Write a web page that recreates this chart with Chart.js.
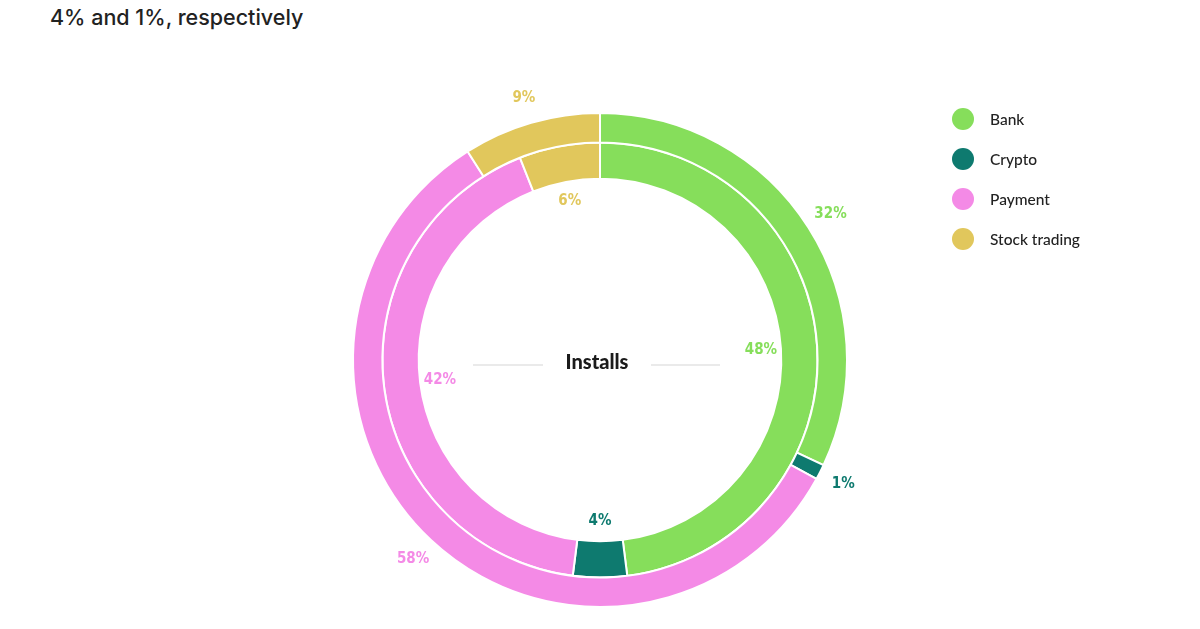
<!DOCTYPE html>
<html>
<head>
  <title>Installs</title>
  <script src="https://cdn.jsdelivr.net/npm/chart.js"></script>
  <style>
    body { margin: 0; background: #fff; font-family: Lato, "Open Sans", sans-serif; }
    #wrap { position: relative; width: 1200px; height: 629px; overflow: hidden; }
    #title {
      position: absolute; left: 50px; top: 4px; font-size: 21.5px; color: #222;
      font-family: Inter, Lato, sans-serif; font-weight: 500;
    }
    #legend { position: absolute; left: 952px; top: 99px; }
    .item { display: flex; align-items: center; height: 40px; font-size: 15.5px; color: #222; font-weight: 500; }
    .dot { width: 22px; height: 22px; border-radius: 50%; margin-right: 16px; }
    canvas { position: absolute; left: 0; top: 0; }
  </style>
</head>
<body>
<div id="wrap">
  <div id="title">4% and 1%, respectively</div>
  <canvas id="chart" width="1200" height="629"></canvas>
  <div id="legend"></div>
</div>

<script>
  const categories = ['Bank', 'Crypto', 'Payment', 'Stock trading'];
  const colors = ['#86de5b', '#0e7a6f', '#f48ae6', '#e1c75c'];
  // outer ring and inner ring shares (%)
  const outerValues = [32, 1, 58, 9];
  const innerValues = [48, 4, 42, 6];
  const centerLabel = 'Installs';

  // legend
  const legend = document.getElementById('legend');
  categories.forEach((name, i) => {
    legend.innerHTML += `<div class="item"><span class="dot" style="background:${colors[i]}"></span>${name}</div>`;
  });

  const labelFont = 'bold 15px "Liberation Sans Narrow", "DejaVu Sans Condensed", sans-serif';

  const ringLabels = {
    id: 'ringLabels',
    afterDatasetsDraw(chart) {
      const ctx = chart.ctx;
      ctx.save();
      ctx.textAlign = 'center';
      ctx.textBaseline = 'middle';
      ctx.font = labelFont;
      chart.data.datasets.forEach((ds, di) => {
        const meta = chart.getDatasetMeta(di);
        meta.data.forEach((arc, i) => {
          const p = arc.getProps(['x', 'y', 'startAngle', 'endAngle', 'innerRadius', 'outerRadius'], true);
          const mid = (p.startAngle + p.endAngle) / 2;
          const r = di === 0 ? p.outerRadius + 26 : p.innerRadius - 20;
          ctx.fillStyle = colors[i];
          ctx.fillText(ds.data[i] + '%', p.x + Math.cos(mid) * r, p.y + Math.sin(mid) * r);
        });
      });

      // center title with side lines
      const c = chart.getDatasetMeta(0).data[0];
      const cx = c.x, cy = c.y;
      ctx.strokeStyle = '#e4e4e4';
      ctx.lineWidth = 1.5;
      ctx.beginPath();
      ctx.moveTo(cx - 127, cy + 5); ctx.lineTo(cx - 57, cy + 5);
      ctx.moveTo(cx + 51, cy + 5); ctx.lineTo(cx + 120, cy + 5);
      ctx.stroke();
      ctx.fillStyle = '#1b1b1b';
      ctx.font = '900 20px Lato, "Open Sans", sans-serif';
      ctx.fillText(centerLabel, cx - 3, cy + 3);
      ctx.restore();
    }
  };

  new Chart(document.getElementById('chart'), {
    type: 'doughnut',
    data: {
      labels: categories,
      datasets: [
        { data: outerValues, backgroundColor: colors, borderColor: '#ffffff', borderWidth: 2, weight: 30 },
        { data: innerValues, backgroundColor: colors, borderColor: '#ffffff', borderWidth: 2, weight: 37 }
      ]
    },
    options: {
      responsive: false,
      animation: false,
      cutout: '73.4%',
      layout: { padding: { left: 352, right: 352, top: 112, bottom: 21 } },
      plugins: {
        legend: { display: false },
        tooltip: { enabled: false }
      }
    },
    plugins: [ringLabels]
  });
</script>
</body>
</html>
